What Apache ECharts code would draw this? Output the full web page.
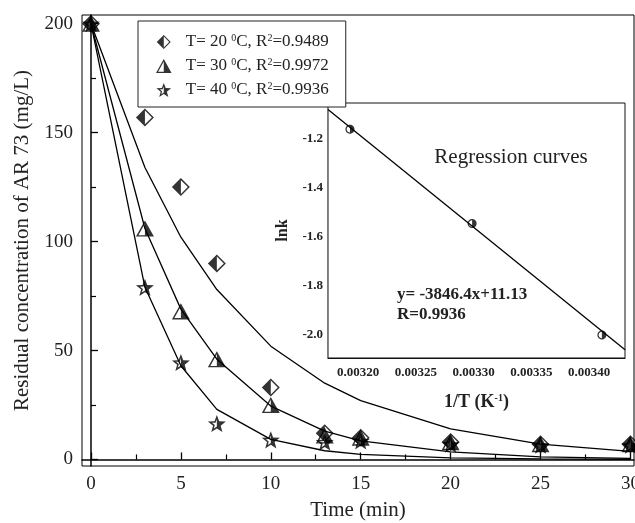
<!DOCTYPE html>
<html><head><meta charset="utf-8">
<script src="https://cdn.jsdelivr.net/npm/echarts@6/dist/echarts.min.js"></script>
<style>html,body{margin:0;padding:0;background:#fff}#c{width:635px;height:523px}</style>
</head><body><div id="c"></div>
<script>
// ---- data ----
const times = [0, 3, 5, 7, 10, 13, 15, 20, 25, 30];
const obs20 = [200, 157, 125, 90, 33, 12, 10, 8, 7, 7];
const obs30 = [200, 106, 68, 46, 25, 11, 10, 8, 7, 7];
const obs40 = [200, 79, 44.5, 16.5, 9, 8, 8.5, 7, 6.5, 6.5];
const fit20 = [200, 134, 102, 78, 52, 35, 27, 14, 7, 3.7];
const fit30 = [200, 106, 69, 46, 24.5, 13, 8.5, 3.5, 1.2, 0.5];
const fit40 = [200, 79, 43, 23, 9.2, 4, 2.3, 0.7, 0.3, 0.1];
const legendNames = ['T= 20 {s|0}C, R{s|2}=0.9489', 'T= 30 {s|0}C, R{s|2}=0.9972', 'T= 40 {s|0}C, R{s|2}=0.9936'];
const xTicks = [0, 5, 10, 15, 20, 25, 30];
const xMinor = [2.5, 7.5, 12.5, 17.5, 22.5, 27.5];
const yTicks = [0, 50, 100, 150, 200];
const yMinor = [25, 75, 125, 175];
// inset
const invT = [0.003193, 0.0032987, 0.003411];
const lnk = [-1.16, -1.545, -2.0];
const regX = [0.003174, 0.003431];
const regY = [-1.08, -2.06];
const ixTicks = [0.0032, 0.00325, 0.0033, 0.00335, 0.0034];
const ixMinor = [0.003175, 0.003225, 0.003275, 0.003325, 0.003375, 0.003425];
const iyTicks = [-2.0, -1.8, -1.6, -1.4, -1.2];
const iyMinor = [-2.1, -1.9, -1.7, -1.5, -1.3, -1.1];

// ---- half-filled marker shapes ----
function insetPoly(pts, w) {
  const n = pts.length; let a = 0;
  for (let i = 0; i < n; i++) { const p = pts[i], q = pts[(i + 1) % n]; a += p[0] * q[1] - q[0] * p[1]; }
  const s = a > 0 ? 1 : -1;
  const lines = [];
  for (let i = 0; i < n; i++) {
    const p = pts[i], q = pts[(i + 1) % n];
    const dx = q[0] - p[0], dy = q[1] - p[1], len = Math.hypot(dx, dy);
    const nx = s * (-dy) / len, ny = s * dx / len;
    const mid = Math.abs(p[0] - 50) < 1e-6 && Math.abs(q[0] - 50) < 1e-6;
    const off = mid ? 0 : w;
    lines.push({ px: p[0] + nx * off, py: p[1] + ny * off, dx, dy });
  }
  const res = [];
  for (let i = 0; i < n; i++) {
    const L1 = lines[(i - 1 + n) % n], L2 = lines[i];
    const cr = L1.dx * L2.dy - L1.dy * L2.dx;
    const qx = L2.px - L1.px, qy = L2.py - L1.py;
    const t = (qx * L2.dy - qy * L2.dx) / cr;
    res.push([L1.px + t * L1.dx, L1.py + t * L1.dy]);
  }
  return res;
}
function sub(pts) { return 'M' + pts.map(p => p[0].toFixed(2) + ',' + p[1].toFixed(2)).join(' L') + ' Z'; }
function halfSymbol(black, white, w) {
  return 'path://' + sub(black) + ' ' + sub(white) + ' ' + sub(insetPoly(white, w).reverse());
}
const diamondSym = halfSymbol([[0, 50], [50, 0], [50, 100]], [[50, 0], [100, 50], [50, 100]], 8);
const triSym = halfSymbol([[50, 0], [100, 90], [50, 90]], [[50, 0], [50, 90], [0, 90]], 8);
const sP = (r, deg) => [50 + r * Math.cos(deg * Math.PI / 180), 50 + r * Math.sin(deg * Math.PI / 180)];
const starSym = halfSymbol(
  [[50, 0], sP(21, -54), sP(50, -18), sP(21, 18), sP(50, 54), [50, 71]],
  [[50, 0], [50, 71], sP(50, 126), sP(21, 162), sP(50, 198), sP(21, 234)], 8);
const circBlack = [], circWhite = [];
for (let k = 0; k <= 24; k++) { circBlack.push(sP(50, -90 + k * 7.5)); circWhite.push(sP(50, 90 + k * 7.5)); }
const circSym = halfSymbol(circBlack, circWhite, 14);

const serif = '"Liberation Serif","Times New Roman",serif';
const pair = (xs, ys) => xs.map((x, i) => [x, ys[i]]);
const lineS = (d) => ({ type: 'line', xAxisIndex: 0, yAxisIndex: 0, data: d, showSymbol: false, smooth: false,
  lineStyle: { color: '#000', width: 1.3 }, z: 2, silent: true });

const chart = echarts.init(document.getElementById('c'), null, { renderer: 'canvas' });
const axisLbl = { fontFamily: serif, fontSize: 19, color: '#222' };
const innerLbl = { fontFamily: serif, fontSize: 13, fontWeight: 'bold', color: '#222' };
chart.setOption({
  animation: false,
  backgroundColor: '#fff',
  grid: [
    { left: 82, top: 15, right: 1, bottom: 57, show: true, borderColor: '#000', borderWidth: 1, backgroundColor: 'transparent',
      containLabel: false, outerBoundsMode: 'none' },
    { left: 328, top: 103, width: 297, height: 255, show: true, borderColor: '#111', borderWidth: 1, backgroundColor: '#fff', z: 3,
      containLabel: false, outerBoundsMode: 'none' }
  ],
  xAxis: [
    { gridIndex: 0, type: 'value', min: -0.5, max: 30.2, position: 'bottom',
      name: 'Time (min)', nameLocation: 'middle', nameGap: 34, nameTextStyle: { fontFamily: serif, fontSize: 21, color: '#222' },
      axisLine: { lineStyle: { color: '#000', width: 1.5 } }, splitLine: { show: false },
      axisTick: { inside: true, length: 7, customValues: xTicks, lineStyle: { color: '#000', width: 1.3 } },
      axisLabel: Object.assign({ customValues: xTicks, margin: 9 }, axisLbl) },
    { gridIndex: 0, type: 'value', min: -0.5, max: 30.2, position: 'bottom',
      axisLine: { show: false }, splitLine: { show: false }, axisLabel: { show: false },
      axisTick: { inside: true, length: 5, customValues: xMinor, lineStyle: { color: '#000', width: 1.2 } } },
    { gridIndex: 1, type: 'value', min: 0.003174, max: 0.003431, position: 'bottom',
      name: '1/T (K{s|-1})', nameLocation: 'middle', nameGap: 35,
      nameTextStyle: { fontFamily: serif, fontSize: 18, fontWeight: 'bold', color: '#222',
        rich: { s: { fontFamily: serif, fontSize: 10, fontWeight: 'bold', verticalAlign: 'top', lineHeight: 10 } } },
      axisLine: { lineStyle: { color: '#111', width: 1.2 } }, splitLine: { show: false },
      axisTick: { inside: true, length: 5, customValues: ixTicks, lineStyle: { color: '#111' } },
      axisLabel: Object.assign({ customValues: ixTicks, margin: 8, formatter: v => v.toFixed(5) }, innerLbl) },
    { gridIndex: 1, type: 'value', min: 0.003174, max: 0.003431, position: 'bottom',
      axisLine: { show: false }, splitLine: { show: false }, axisLabel: { show: false },
      axisTick: { inside: true, length: 3, customValues: ixMinor, lineStyle: { color: '#111' } } }
  ],
  yAxis: [
    { gridIndex: 0, type: 'value', min: -3, max: 204, position: 'left',
      name: 'Residual concentration of AR 73 (mg/L)', nameLocation: 'middle', nameGap: 49,
      nameTextStyle: { fontFamily: serif, fontSize: 21, color: '#222' },
      axisLine: { lineStyle: { color: '#000', width: 1.5 } }, splitLine: { show: false },
      axisTick: { inside: true, length: 7, customValues: yTicks, lineStyle: { color: '#000', width: 1.3 } },
      axisLabel: Object.assign({ customValues: yTicks, margin: 9 }, axisLbl) },
    { gridIndex: 0, type: 'value', min: -3, max: 204, position: 'left',
      axisLine: { show: false }, splitLine: { show: false }, axisLabel: { show: false },
      axisTick: { inside: true, length: 5, customValues: yMinor, lineStyle: { color: '#000', width: 1.2 } } },
    { gridIndex: 1, type: 'value', min: -2.094, max: -1.053, position: 'left',
      name: 'lnk', nameLocation: 'middle', nameGap: 37, nameRotate: 90,
      nameTextStyle: { fontFamily: serif, fontSize: 16, fontWeight: 'bold', color: '#222' },
      axisLine: { lineStyle: { color: '#111', width: 1.2 } }, splitLine: { show: false },
      axisTick: { inside: true, length: 5, customValues: iyTicks, lineStyle: { color: '#111' } },
      axisLabel: Object.assign({ customValues: iyTicks, margin: 5, formatter: v => v.toFixed(1) }, innerLbl) },
    { gridIndex: 1, type: 'value', min: -2.094, max: -1.053, position: 'left',
      axisLine: { show: false }, splitLine: { show: false }, axisLabel: { show: false },
      axisTick: { inside: true, length: 3, customValues: iyMinor, lineStyle: { color: '#111' } } }
  ],
  legend: {
    data: legendNames, orient: 'vertical', left: 138, top: 21,
    padding: [12, 17, 8, 18], itemGap: 6, itemWidth: 34, itemHeight: 14,
    backgroundColor: '#fff', borderColor: '#222', borderWidth: 1, borderRadius: 0,
    selectedMode: false, z: 10,
    textStyle: { fontFamily: serif, fontSize: 17, color: '#222', lineHeight: 18,
      rich: { s: { fontFamily: serif, fontSize: 10, color: '#222', verticalAlign: 'top', lineHeight: 12 } } }
  },
  series: [
    lineS(pair(times, fit20)), lineS(pair(times, fit30)), lineS(pair(times, fit40)),
    { type: 'scatter', name: legendNames[0], xAxisIndex: 0, yAxisIndex: 0, data: pair(times, obs20),
      symbol: diamondSym, symbolSize: 18, symbolKeepAspect: true, itemStyle: { color: '#000' }, z: 4 },
    { type: 'scatter', name: legendNames[1], xAxisIndex: 0, yAxisIndex: 0, data: pair(times, obs30),
      symbol: triSym, symbolSize: 18, symbolKeepAspect: true, itemStyle: { color: '#000' }, z: 4 },
    { type: 'scatter', name: legendNames[2], xAxisIndex: 0, yAxisIndex: 0, data: pair(times, obs40),
      symbol: starSym, symbolSize: 18, symbolKeepAspect: true, itemStyle: { color: '#000' }, z: 4 },
    { type: 'line', xAxisIndex: 2, yAxisIndex: 2, data: pair(regX, regY), showSymbol: false,
      lineStyle: { color: '#000', width: 1.3 }, z: 5, silent: true },
    { type: 'scatter', xAxisIndex: 2, yAxisIndex: 2, data: pair(invT, lnk), symbol: circSym, symbolSize: 9,
      symbolKeepAspect: true, itemStyle: { color: '#000' }, z: 6 }
  ],
  graphic: [
    { type: 'text', x: 511, y: 157, z: 20, style: { text: 'Regression curves', fontFamily: serif, fontSize: 21, fill: '#222', align: 'center', verticalAlign: 'middle' } },
    { type: 'text', x: 397, y: 295, z: 20, style: { text: 'y= -3846.4x+11.13', fontFamily: serif, fontSize: 17, fontWeight: 'bold', fill: '#222', align: 'left', verticalAlign: 'middle' } },
    { type: 'text', x: 397, y: 315, z: 20, style: { text: 'R=0.9936', fontFamily: serif, fontSize: 17, fontWeight: 'bold', fill: '#222', align: 'left', verticalAlign: 'middle' } }
  ]
});
</script></body></html>
